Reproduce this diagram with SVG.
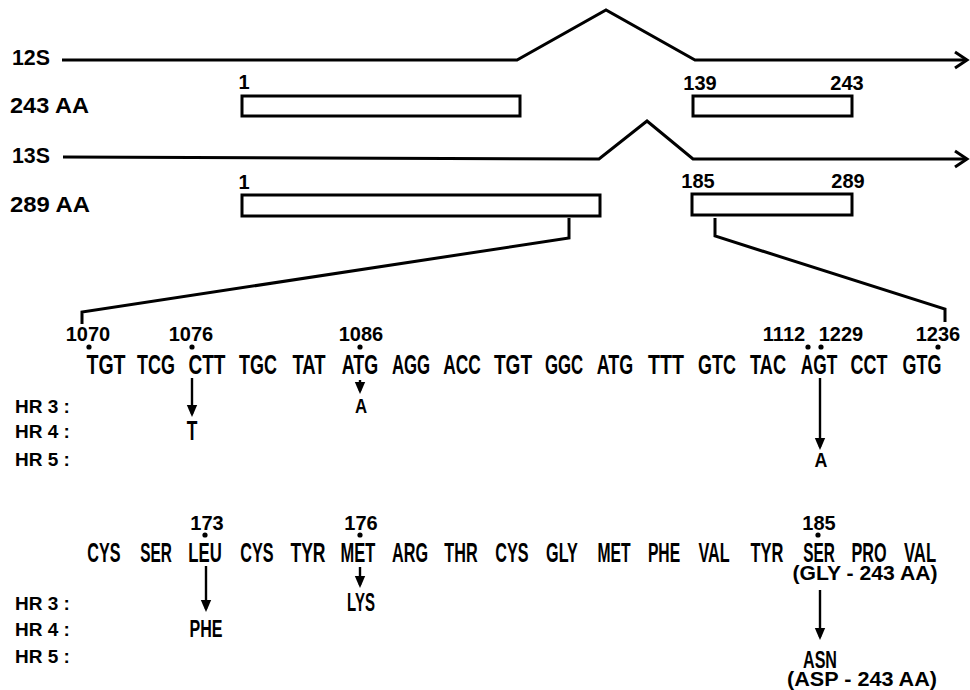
<svg xmlns="http://www.w3.org/2000/svg" width="970" height="690" viewBox="0 0 970 690">
<defs>
<style>
.ln{fill:none;stroke:#000;stroke-width:3;stroke-linejoin:miter;stroke-linecap:butt}
.bx{fill:#fff;stroke:#000;stroke-width:3}
.ar{fill:none;stroke:#000;stroke-width:2.4}
.t{font-family:"Liberation Sans",Arial,sans-serif;font-weight:bold;fill:#000}
.lab{font-size:22px}
.num{font-size:20px;text-anchor:middle}
.hr{font-size:19px}
.cd{font-size:28px;text-anchor:middle}
.aa{font-size:27px;text-anchor:middle}
.par{font-size:20px;text-anchor:middle}
.mid{text-anchor:middle}
</style>
<marker id="ah" markerUnits="userSpaceOnUse" markerWidth="12" markerHeight="12" viewBox="0 0 12 12" refX="9" refY="6" orient="auto">
<path d="M0,0.8 L12,6 L0,11.2 z" fill="#000"/>
</marker>
</defs>
<rect width="970" height="690" fill="#fff"/>

<g id="transcripts">
<g id="mrna12s">
<text class="t lab" x="12" y="65" textLength="38" lengthAdjust="spacingAndGlyphs">12S</text>
<polyline class="ln" points="62,60 517,60 606,10 695,60 967,60"/>
<polyline class="ln" points="955,52 967,60 955,68"/>
</g>
<g id="prot243">
<text class="t lab" x="10" y="113" textLength="79" lengthAdjust="spacingAndGlyphs">243 AA</text>
<rect class="bx" x="242" y="96" width="278" height="20"/>
<rect class="bx" x="693" y="96" width="159" height="20"/>
<text class="t num" x="244" y="89">1</text>
<text class="t num" x="700" y="90">139</text>
<text class="t num" x="847" y="90">243</text>
</g>
<g id="mrna13s">
<text class="t lab" x="12" y="163" textLength="38" lengthAdjust="spacingAndGlyphs">13S</text>
<polyline class="ln" points="63,157 599,159 647,121 693,159 967,159"/>
<polyline class="ln" points="955,151 967,159 955,167"/>
</g>
<g id="prot289">
<text class="t lab" x="10" y="212" textLength="80" lengthAdjust="spacingAndGlyphs">289 AA</text>
<rect class="bx" x="242" y="195" width="358" height="21"/>
<rect class="bx" x="692" y="194" width="160" height="21"/>
<text class="t num" x="244" y="189">1</text>
<text class="t num" x="698" y="188">185</text>
<text class="t num" x="848" y="188">289</text>
</g>
</g>

<g id="connectors">
<polyline class="ln" points="569,218 569,238 82,312 82,324"/>
<polyline class="ln" points="715,218 715,236 945,309 945,322"/>
<line class="ar" x1="192" y1="378" x2="192" y2="414" marker-end="url(#ah)"/>
<line class="ar" x1="360" y1="380" x2="360" y2="391" marker-end="url(#ah)"/>
<line class="ar" x1="820" y1="378" x2="820" y2="447" marker-end="url(#ah)"/>
<line class="ar" x1="206" y1="566" x2="206" y2="609" marker-end="url(#ah)"/>
<line class="ar" x1="360" y1="567" x2="360" y2="585" marker-end="url(#ah)"/>
<line class="ar" x1="820" y1="590" x2="820" y2="637" marker-end="url(#ah)"/>
</g>

<g id="dna">
<g id="dna-numbers">
<text class="t num" x="88" y="341">1070</text>
<text class="t num" x="191" y="341">1076</text>
<text class="t num" x="361" y="341">1086</text>
<text class="t num" x="784" y="341">1112</text>
<text class="t num" x="841" y="341">1229</text>
<text class="t num" x="938" y="341">1236</text>
<circle cx="89" cy="347" r="2.6"/>
<circle cx="192" cy="347" r="2.6"/>
<circle cx="360" cy="347" r="2.6"/>
<circle cx="808" cy="347" r="2.6"/>
<circle cx="821" cy="347" r="2.6"/>
<circle cx="938" cy="347" r="2.6"/>
</g>
<g id="codons">
<text class="t cd" transform="translate(106,374) scale(0.7,1)">TGT</text>
<text class="t cd" transform="translate(156,374) scale(0.64,1)">TCG</text>
<text class="t cd" transform="translate(207,374) scale(0.68,1)">CTT</text>
<text class="t cd" transform="translate(258,374) scale(0.64,1)">TGC</text>
<text class="t cd" transform="translate(309,374) scale(0.66,1)">TAT</text>
<text class="t cd" transform="translate(360,374) scale(0.64,1)">ATG</text>
<text class="t cd" transform="translate(411,374) scale(0.6,1)">AGG</text>
<text class="t cd" transform="translate(462,374) scale(0.62,1)">ACC</text>
<text class="t cd" transform="translate(513,374) scale(0.68,1)">TGT</text>
<text class="t cd" transform="translate(564,374) scale(0.6,1)">GGC</text>
<text class="t cd" transform="translate(615,374) scale(0.64,1)">ATG</text>
<text class="t cd" transform="translate(666,374) scale(0.7,1)">TTT</text>
<text class="t cd" transform="translate(717,374) scale(0.64,1)">GTC</text>
<text class="t cd" transform="translate(768,374) scale(0.65,1)">TAC</text>
<text class="t cd" transform="translate(819,374) scale(0.62,1)">AGT</text>
<text class="t cd" transform="translate(869,374) scale(0.64,1)">CCT</text>
<text class="t cd" transform="translate(922,374) scale(0.64,1)">GTG</text>
</g>
<g id="dna-hr">
<text class="t hr" x="15" y="413">HR 3 :</text>
<text class="t hr" x="15" y="438">HR 4 :</text>
<text class="t hr" x="15" y="466">HR 5 :</text>
<text class="t mid" font-size="21" transform="translate(361,413) scale(0.8,1)">A</text>
<text class="t mid" font-size="28" transform="translate(192,440) scale(0.62,1)">T</text>
<text class="t mid" font-size="21" transform="translate(821,467) scale(0.85,1)">A</text>
</g>
</g>

<g id="protein">
<g id="aa-numbers">
<text class="t num" x="207" y="530">173</text>
<text class="t num" x="361" y="530">176</text>
<text class="t num" x="819" y="530" font-size="19">185</text>
<circle cx="205" cy="535" r="2.6"/>
<circle cx="360" cy="535" r="2.6"/>
<circle cx="818" cy="535" r="2.6"/>
</g>
<g id="residues">
<text class="t aa" transform="translate(104,562) scale(0.6,1)">CYS</text>
<text class="t aa" transform="translate(156,562) scale(0.57,1)">SER</text>
<text class="t aa" transform="translate(205,562) scale(0.62,1)">LEU</text>
<text class="t aa" transform="translate(257,562) scale(0.6,1)">CYS</text>
<text class="t aa" transform="translate(308,562) scale(0.65,1)">TYR</text>
<text class="t aa" transform="translate(358,562) scale(0.61,1)">MET</text>
<text class="t aa" transform="translate(410,562) scale(0.6,1)">ARG</text>
<text class="t aa" transform="translate(461,562) scale(0.6,1)">THR</text>
<text class="t aa" transform="translate(512,562) scale(0.6,1)">CYS</text>
<text class="t aa" transform="translate(562,562) scale(0.6,1)">GLY</text>
<text class="t aa" transform="translate(614,562) scale(0.58,1)">MET</text>
<text class="t aa" transform="translate(664,562) scale(0.58,1)">PHE</text>
<text class="t aa" transform="translate(714,562) scale(0.6,1)">VAL</text>
<text class="t aa" transform="translate(767,562) scale(0.61,1)">TYR</text>
<text class="t aa" transform="translate(819,562) scale(0.57,1)">SER</text>
<text class="t aa" transform="translate(869,562) scale(0.6,1)">PRO</text>
<text class="t aa" transform="translate(920,562) scale(0.62,1)">VAL</text>
</g>
<g id="aa-hr">
<text class="t hr" x="15" y="610">HR 3 :</text>
<text class="t hr" x="15" y="636">HR 4 :</text>
<text class="t hr" x="15" y="663">HR 5 :</text>
<text class="t mid" font-size="25" transform="translate(361,611) scale(0.6,1)">LYS</text>
<text class="t mid" font-size="24" transform="translate(206,637) scale(0.67,1)">PHE</text>
<text class="t mid" font-size="23" transform="translate(820,668) scale(0.7,1)">ASN</text>
<text class="t par" x="865" y="580" textLength="145" lengthAdjust="spacingAndGlyphs">(GLY - 243 AA)</text>
<text class="t par" x="862" y="686" textLength="150" lengthAdjust="spacingAndGlyphs">(ASP - 243 AA)</text>
</g>
</g>
</svg>
